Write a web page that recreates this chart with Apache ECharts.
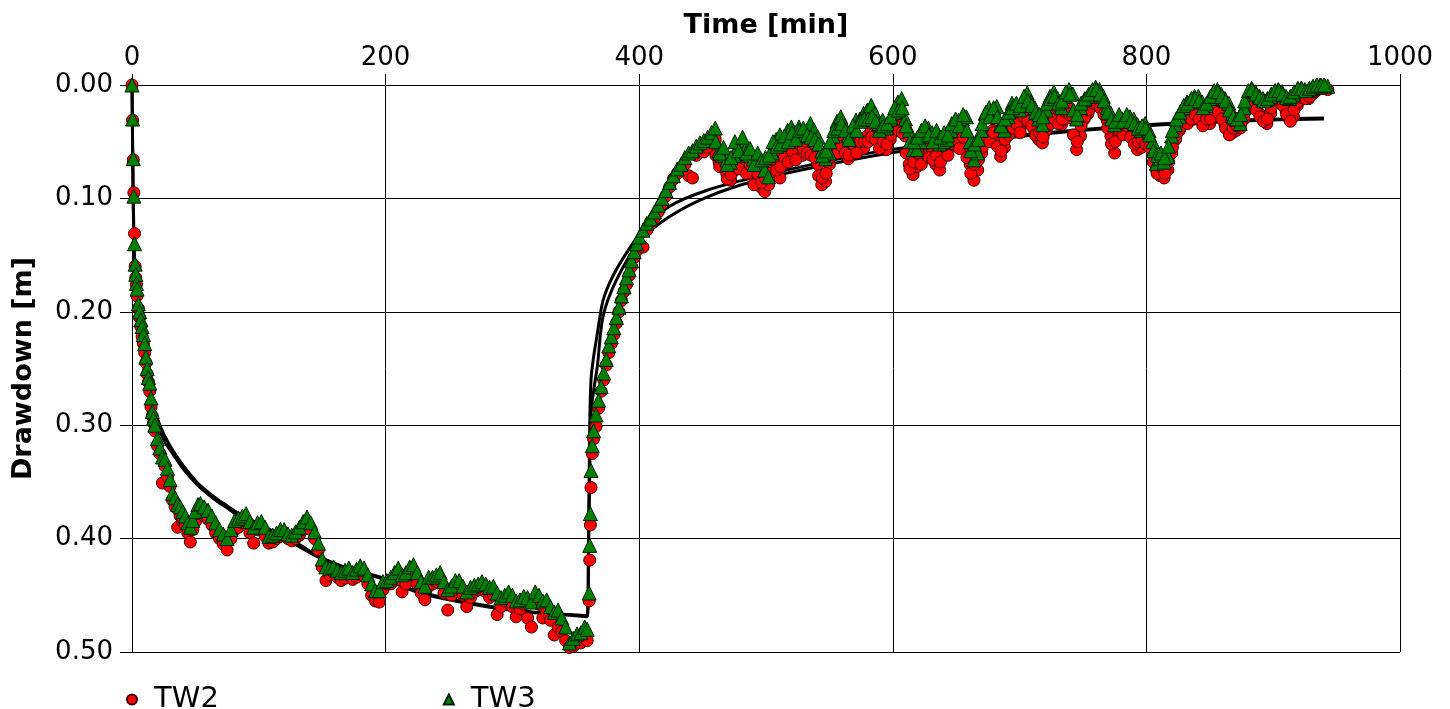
<!DOCTYPE html>
<html>
<head>
<meta charset="utf-8">
<script src="https://cdn.jsdelivr.net/npm/echarts@6/dist/echarts.min.js"></script>
<style>
  html, body { margin: 0; padding: 0; background: #fff; }
  #chart { width: 1450px; height: 709px; }
</style>
</head>
<body>
<div id="chart"></div>
<script>
// sampling times [min]
var time = [
  0, 0.5, 1, 1.5, 2, 2.5, 3, 3.5, 4, 5,
  6, 7, 8, 9, 10, 11, 12, 13, 14, 15,
  16, 17, 18, 20, 22, 24, 26, 28, 30, 32,
  34, 36, 38, 40, 42, 44, 46, 48, 50, 52,
  54, 57, 60, 63, 66, 69, 72, 75, 78, 81,
  84, 87, 90, 93, 96, 99, 102, 105, 108, 111,
  114, 117, 120, 123, 126, 129, 132, 135, 138, 141,
  144, 147, 150, 153, 156, 159, 162, 165, 168, 171,
  174, 177, 180, 183, 186, 189, 192, 195, 198, 201,
  204, 207, 210, 213, 216, 219, 222, 225, 228, 231,
  234, 237, 240, 243, 246, 249, 252, 255, 258, 261,
  264, 267, 270, 273, 276, 279, 282, 285, 288, 291,
  294, 297, 300, 303, 306, 309, 312, 315, 318, 321,
  324, 327, 330, 333, 336, 339, 342, 345, 348, 351,
  354, 357, 359, 360.5, 361, 361.5, 362, 363, 364, 366,
  368, 370, 372, 374, 376, 378, 380, 382, 384, 386,
  388, 390, 392, 394, 396, 398, 400, 403, 406, 409,
  412, 415, 418, 421, 424, 427, 430, 433, 436, 439,
  442, 445, 448, 451, 454, 457, 460, 463, 466, 469,
  472, 475, 478, 481, 484, 487, 490, 493, 496, 499,
  502, 505, 508, 511, 514, 517, 520, 523, 526, 529,
  532, 535, 538, 541, 544, 547, 550, 553, 556, 559,
  562, 565, 568, 571, 574, 577, 580, 583, 586, 589,
  592, 595, 598, 601, 604, 607, 610, 613, 616, 619,
  622, 625, 628, 631, 634, 637, 640, 643, 646, 649,
  652, 655, 658, 661, 664, 667, 670, 673, 676, 679,
  682, 685, 688, 691, 694, 697, 700, 703, 706, 709,
  712, 715, 718, 721, 724, 727, 730, 733, 736, 739,
  742, 745, 748, 751, 754, 757, 760, 763, 766, 769,
  772, 775, 778, 781, 784, 787, 790, 793, 796, 799,
  802, 805, 808, 811, 814, 817, 820, 823, 826, 829,
  832, 835, 838, 841, 844, 847, 850, 853, 856, 859,
  862, 865, 868, 871, 874, 877, 880, 883, 886, 889,
  892, 895, 898, 901, 904, 907, 910, 913, 916, 919,
  922, 925, 928, 931, 934, 937, 940, 943
];

// drawdown [m]
var tw2 = [
  0.000, 0.031, 0.066, 0.095, 0.131, 0.160, 0.170, 0.176, 0.186, 0.197,
  0.205, 0.213, 0.222, 0.228, 0.236, 0.245, 0.255, 0.262, 0.270, 0.284,
  0.292, 0.298, 0.305, 0.318, 0.325, 0.351, 0.336, 0.345, 0.354, 0.366,
  0.372, 0.390, 0.380, 0.385, 0.388, 0.395, 0.403, 0.392, 0.385, 0.378,
  0.376, 0.380, 0.383, 0.388, 0.395, 0.400, 0.405, 0.410, 0.400, 0.392,
  0.390, 0.386, 0.385, 0.395, 0.404, 0.392, 0.390, 0.398, 0.404, 0.403,
  0.400, 0.398, 0.396, 0.400, 0.402, 0.400, 0.397, 0.392, 0.388, 0.392,
  0.400, 0.410, 0.425, 0.437, 0.432, 0.430, 0.434, 0.437, 0.435, 0.432,
  0.436, 0.434, 0.430, 0.433, 0.440, 0.450, 0.455, 0.456, 0.445, 0.440,
  0.440, 0.437, 0.436, 0.447, 0.440, 0.432, 0.430, 0.440, 0.448, 0.454,
  0.442, 0.440, 0.438, 0.436, 0.448, 0.463, 0.450, 0.445, 0.443, 0.450,
  0.460, 0.452, 0.447, 0.445, 0.444, 0.447, 0.452, 0.450, 0.467, 0.460,
  0.455, 0.452, 0.460, 0.469, 0.462, 0.458, 0.470, 0.478, 0.455, 0.458,
  0.470, 0.465, 0.472, 0.485, 0.478, 0.482, 0.490, 0.496, 0.495, 0.490,
  0.492, 0.488, 0.490, 0.455, 0.419, 0.388, 0.355, 0.325, 0.312, 0.301,
  0.285, 0.270, 0.260, 0.247, 0.236, 0.228, 0.220, 0.210, 0.200, 0.190,
  0.182, 0.176, 0.168, 0.160, 0.152, 0.146, 0.140, 0.143, 0.128, 0.122,
  0.117, 0.112, 0.105, 0.098, 0.090, 0.083, 0.078, 0.074, 0.070, 0.080,
  0.082, 0.062, 0.058, 0.059, 0.055, 0.050, 0.048, 0.068, 0.070, 0.078,
  0.084, 0.075, 0.070, 0.066, 0.071, 0.075, 0.080, 0.085, 0.090, 0.094,
  0.088, 0.070, 0.062, 0.082, 0.070, 0.060, 0.066, 0.060, 0.058, 0.062,
  0.055, 0.050, 0.058, 0.070, 0.088, 0.085, 0.070, 0.060, 0.052, 0.050,
  0.055, 0.065, 0.058, 0.048, 0.056, 0.056, 0.045, 0.040, 0.042, 0.050,
  0.055, 0.057, 0.048, 0.040, 0.030, 0.035, 0.045, 0.070, 0.079, 0.072,
  0.065, 0.060, 0.055, 0.060, 0.070, 0.075, 0.060, 0.058, 0.052, 0.048,
  0.045, 0.050, 0.055, 0.070, 0.084, 0.075, 0.060, 0.050, 0.045, 0.040,
  0.045, 0.063, 0.055, 0.040, 0.035, 0.030, 0.038, 0.032, 0.025, 0.030,
  0.040, 0.048, 0.051, 0.040, 0.030, 0.025, 0.028, 0.035, 0.030, 0.020,
  0.030, 0.057, 0.045, 0.030, 0.025, 0.018, 0.012, 0.015, 0.022, 0.031,
  0.045, 0.060, 0.045, 0.040, 0.038, 0.042, 0.048, 0.057, 0.055, 0.045,
  0.050, 0.060, 0.075, 0.080, 0.082, 0.075, 0.060, 0.048, 0.040, 0.035,
  0.030, 0.028, 0.030, 0.028, 0.032, 0.034, 0.034, 0.025, 0.020, 0.025,
  0.035, 0.040, 0.042, 0.040, 0.038, 0.030, 0.020, 0.012, 0.018, 0.025,
  0.030, 0.034, 0.025, 0.015, 0.010, 0.015, 0.022, 0.030, 0.028, 0.018,
  0.012, 0.010, 0.012, 0.008, 0.005, 0.003, 0.002, 0.004
];

var tw3 = [
  0.000, 0.030, 0.065, 0.098, 0.140, 0.158, 0.167, 0.175, 0.180, 0.193,
  0.200, 0.207, 0.213, 0.220, 0.228, 0.240, 0.250, 0.258, 0.263, 0.276,
  0.288, 0.294, 0.300, 0.312, 0.320, 0.328, 0.330, 0.338, 0.348, 0.360,
  0.364, 0.370, 0.372, 0.376, 0.380, 0.386, 0.390, 0.384, 0.376, 0.370,
  0.369, 0.372, 0.375, 0.380, 0.386, 0.392, 0.396, 0.400, 0.392, 0.384,
  0.382, 0.380, 0.378, 0.385, 0.390, 0.386, 0.385, 0.390, 0.398, 0.397,
  0.395, 0.392, 0.392, 0.396, 0.397, 0.394, 0.390, 0.385, 0.381, 0.386,
  0.394, 0.404, 0.418, 0.425, 0.426, 0.425, 0.428, 0.430, 0.428, 0.426,
  0.430, 0.427, 0.424, 0.426, 0.432, 0.440, 0.446, 0.446, 0.438, 0.437,
  0.434, 0.430, 0.426, 0.432, 0.430, 0.425, 0.423, 0.430, 0.438, 0.442,
  0.434, 0.434, 0.432, 0.430, 0.438, 0.445, 0.442, 0.437, 0.437, 0.442,
  0.447, 0.443, 0.441, 0.440, 0.438, 0.440, 0.443, 0.442, 0.448, 0.452,
  0.450, 0.447, 0.450, 0.455, 0.454, 0.451, 0.452, 0.456, 0.447, 0.450,
  0.455, 0.454, 0.460, 0.465, 0.463, 0.470, 0.478, 0.492, 0.488, 0.484,
  0.483, 0.478, 0.480, 0.448, 0.406, 0.378, 0.340, 0.318, 0.305, 0.291,
  0.278, 0.266, 0.254, 0.242, 0.230, 0.222, 0.214, 0.205, 0.196, 0.186,
  0.178, 0.170, 0.163, 0.155, 0.147, 0.140, 0.134, 0.128, 0.122, 0.118,
  0.112, 0.106, 0.100, 0.093, 0.086, 0.080, 0.074, 0.070, 0.064, 0.060,
  0.058, 0.054, 0.051, 0.049, 0.046, 0.042, 0.038, 0.058, 0.062, 0.066,
  0.068, 0.062, 0.054, 0.050, 0.056, 0.062, 0.065, 0.066, 0.070, 0.075,
  0.081, 0.060, 0.048, 0.044, 0.050, 0.040, 0.037, 0.042, 0.037, 0.045,
  0.040, 0.034, 0.040, 0.046, 0.058, 0.065, 0.060, 0.045, 0.032, 0.028,
  0.036, 0.045, 0.040, 0.031, 0.030, 0.025, 0.022, 0.018, 0.025, 0.034,
  0.031, 0.038, 0.030, 0.024, 0.015, 0.012, 0.030, 0.040, 0.057, 0.057,
  0.050, 0.045, 0.038, 0.042, 0.048, 0.052, 0.050, 0.048, 0.040, 0.033,
  0.031, 0.030, 0.028, 0.050, 0.066, 0.060, 0.040, 0.025, 0.020, 0.022,
  0.019, 0.035, 0.040, 0.028, 0.016, 0.018, 0.022, 0.012, 0.007, 0.015,
  0.020, 0.030, 0.035, 0.022, 0.010, 0.006, 0.012, 0.020, 0.010, 0.004,
  0.008, 0.030, 0.020, 0.013, 0.010, 0.006, 0.002, 0.004, 0.010, 0.020,
  0.025, 0.035, 0.028, 0.030, 0.030, 0.028, 0.030, 0.035, 0.040, 0.034,
  0.040, 0.050, 0.069, 0.065, 0.068, 0.063, 0.045, 0.035, 0.028, 0.020,
  0.015, 0.013, 0.010, 0.010, 0.015, 0.018, 0.012, 0.006, 0.004, 0.008,
  0.012, 0.016, 0.025, 0.030, 0.034, 0.020, 0.008, 0.003, 0.006, 0.010,
  0.012, 0.013, 0.010, 0.006, 0.004, 0.006, 0.010, 0.012, 0.008, 0.004,
  0.003, 0.004, 0.004, 0.002, 0.001, 0.000, 0.000, 0.001
];

// extra readings in the recovery period (in-between samples)
var timeB = [
  460.5, 463.5, 466.5, 469.5, 472.5, 475.5, 478.5, 481.5, 484.5, 487.5,
  490.5, 493.5, 496.5, 499.5, 502.5, 505.5, 508.5, 511.5, 514.5, 517.5,
  520.5, 523.5, 526.5, 529.5, 532.5, 535.5, 538.5, 541.5, 544.5, 547.5,
  550.5, 553.5, 556.5, 559.5, 562.5, 565.5, 568.5, 571.5, 574.5, 577.5,
  580.5, 583.5, 586.5, 589.5, 592.5, 595.5, 598.5, 601.5, 604.5, 607.5,
  610.5, 613.5, 616.5, 619.5, 622.5, 625.5, 628.5, 631.5, 634.5, 637.5,
  640.5, 643.5, 646.5, 649.5, 652.5, 655.5, 658.5, 661.5, 664.5, 667.5,
  670.5, 673.5, 676.5, 679.5, 682.5, 685.5, 688.5, 691.5, 694.5, 697.5,
  700.5, 703.5, 706.5, 709.5, 712.5, 715.5, 718.5, 721.5, 724.5, 727.5,
  730.5, 733.5, 736.5, 739.5, 742.5, 745.5, 748.5, 751.5, 754.5, 757.5,
  760.5, 763.5, 766.5, 769.5, 772.5, 775.5, 778.5, 781.5, 784.5, 787.5,
  790.5, 793.5, 796.5, 799.5, 802.5, 805.5, 808.5, 811.5, 814.5, 817.5,
  820.5, 823.5, 826.5, 829.5, 832.5, 835.5, 838.5, 841.5, 844.5, 847.5,
  850.5, 853.5, 856.5, 859.5, 862.5, 865.5, 868.5, 871.5, 874.5, 877.5,
  880.5, 883.5, 886.5, 889.5, 892.5, 895.5, 898.5, 901.5, 904.5, 907.5,
  910.5, 913.5, 916.5, 919.5, 922.5, 925.5, 928.5, 931.5, 934.5, 937.5,
  940.5
];

var tw2B = [
  0.062, 0.072, 0.066, 0.083, 0.079, 0.068, 0.074, 0.060, 0.078, 0.070,
  0.088, 0.078, 0.086, 0.082, 0.078, 0.066, 0.075, 0.072, 0.064, 0.068,
  0.058, 0.066, 0.052, 0.056, 0.060, 0.062, 0.064, 0.080, 0.082, 0.078,
  0.064, 0.056, 0.060, 0.054, 0.060, 0.062, 0.052, 0.060, 0.050, 0.050,
  0.050, 0.046, 0.048, 0.056, 0.050, 0.052, 0.044, 0.036, 0.040, 0.042,
  0.060, 0.074, 0.068, 0.060, 0.070, 0.052, 0.064, 0.066, 0.062, 0.068,
  0.054, 0.062, 0.046, 0.052, 0.056, 0.046, 0.064, 0.078, 0.070, 0.066,
  0.055, 0.046, 0.050, 0.042, 0.054, 0.058, 0.048, 0.044, 0.038, 0.034,
  0.042, 0.028, 0.032, 0.036, 0.044, 0.042, 0.046, 0.036, 0.034, 0.030,
  0.034, 0.030, 0.024, 0.026, 0.044, 0.050, 0.036, 0.028, 0.022, 0.016,
  0.016, 0.020, 0.026, 0.038, 0.052, 0.050, 0.040, 0.044, 0.036, 0.046,
  0.052, 0.050, 0.048, 0.052, 0.055, 0.068, 0.078, 0.072, 0.078, 0.068,
  0.055, 0.044, 0.038, 0.032, 0.034, 0.030, 0.026, 0.030, 0.036, 0.030,
  0.030, 0.022, 0.024, 0.030, 0.038, 0.044, 0.038, 0.036, 0.034, 0.024,
  0.016, 0.015, 0.022, 0.028, 0.032, 0.030, 0.020, 0.012, 0.013, 0.018,
  0.026, 0.032, 0.022, 0.015, 0.011, 0.012, 0.010, 0.006, 0.004, 0.003,
  0.003
];

var tw3B = [
  0.050, 0.060, 0.055, 0.070, 0.064, 0.050, 0.058, 0.046, 0.060, 0.056,
  0.070, 0.060, 0.066, 0.064, 0.062, 0.050, 0.054, 0.052, 0.045, 0.050,
  0.042, 0.048, 0.040, 0.038, 0.044, 0.046, 0.048, 0.052, 0.062, 0.058,
  0.050, 0.040, 0.038, 0.034, 0.040, 0.048, 0.036, 0.040, 0.032, 0.030,
  0.030, 0.028, 0.032, 0.040, 0.036, 0.034, 0.028, 0.020, 0.022, 0.020,
  0.036, 0.050, 0.050, 0.046, 0.040, 0.036, 0.044, 0.050, 0.040, 0.046,
  0.042, 0.044, 0.034, 0.030, 0.036, 0.026, 0.040, 0.058, 0.052, 0.048,
  0.034, 0.024, 0.028, 0.020, 0.028, 0.036, 0.030, 0.024, 0.020, 0.016,
  0.018, 0.010, 0.014, 0.018, 0.024, 0.026, 0.028, 0.016, 0.012, 0.010,
  0.016, 0.014, 0.006, 0.008, 0.022, 0.026, 0.016, 0.012, 0.008, 0.004,
  0.004, 0.008, 0.014, 0.024, 0.030, 0.032, 0.026, 0.032, 0.026, 0.032,
  0.034, 0.038, 0.036, 0.038, 0.044, 0.058, 0.062, 0.060, 0.064, 0.054,
  0.040, 0.030, 0.024, 0.018, 0.016, 0.012, 0.012, 0.014, 0.020, 0.016,
  0.010, 0.005, 0.006, 0.010, 0.014, 0.022, 0.028, 0.030, 0.026, 0.014,
  0.005, 0.004, 0.008, 0.011, 0.014, 0.012, 0.008, 0.005, 0.005, 0.008,
  0.011, 0.010, 0.006, 0.003, 0.003, 0.005, 0.003, 0.001, 0.000, 0.000,
  0.000
];

// fitted curves (two model lines)
var fitTimeA = [0, 0.5, 1, 1.5, 2, 3, 4, 5, 7, 10, 14, 18, 22, 26, 32, 40, 51, 60, 67, 75, 83, 100, 116, 130, 148, 170, 196, 227, 250, 274, 300, 330, 359,
  360, 361, 362, 364, 367, 371.5, 379, 390, 401, 424, 453, 493, 545, 598, 650, 721, 800, 870, 940];
var fitA = [0, 0.06, 0.11, 0.14, 0.16, 0.185, 0.2, 0.21, 0.23, 0.255, 0.28, 0.29, 0.305, 0.315, 0.325, 0.338, 0.352, 0.361, 0.367, 0.373, 0.379, 0.389, 0.398, 0.406, 0.417, 0.427, 0.435, 0.447, 0.453, 0.458, 0.463, 0.466, 0.469,
  0.40, 0.30, 0.26, 0.24, 0.219, 0.19, 0.169, 0.148, 0.131, 0.107, 0.093, 0.081, 0.068, 0.057, 0.05, 0.042, 0.035, 0.031, 0.029];
var fitTimeB = [0, 0.5, 1, 1.5, 2, 3, 4, 5, 7, 10, 14, 18, 22, 26, 32, 40, 51, 60, 67, 75, 83, 100, 116, 130, 148, 170, 196, 227, 274, 314, 345, 359,
  360, 361, 362, 364, 367, 371.5, 382, 401, 424, 453, 493, 545, 598, 650, 721, 800, 870, 940];
var fitB = [0, 0.05, 0.1, 0.13, 0.155, 0.18, 0.195, 0.205, 0.225, 0.25, 0.275, 0.288, 0.3, 0.31, 0.322, 0.335, 0.35, 0.359, 0.365, 0.371, 0.377, 0.387, 0.396, 0.404, 0.416, 0.426, 0.434, 0.448, 0.459, 0.465, 0.467, 0.468,
  0.42, 0.34, 0.29, 0.27, 0.248, 0.204, 0.172, 0.137, 0.116, 0.099, 0.084, 0.071, 0.06, 0.052, 0.043, 0.036, 0.032, 0.03];

var xTicks = [0, 200, 400, 600, 800, 1000];

function pairs(xs, ys) {
  return xs.map(function (x, i) { return [x, ys[i]]; });
}

var chart = echarts.init(document.getElementById('chart'));
var font = 'DejaVu Sans';
var option = {
  backgroundColor: '#fff',
  animation: false,
  textStyle: { fontFamily: font },
  grid: { left: 132, right: 50, top: 85, bottom: 57, containLabel: false, outerBoundsMode: 'none' },
  legend: {
    left: 121, top: 680,
    itemGap: 224, itemWidth: 10, itemHeight: 10,
    textStyle: { fontSize: 29, color: '#000', fontFamily: font, padding: [0, 0, 0, 12] },
    data: [{ name: 'TW2', icon: 'circle' }, { name: 'TW3', icon: 'triangle' }]
  },
  xAxis: {
    type: 'value', position: 'top',
    min: xTicks[0], max: xTicks[xTicks.length - 1], interval: 200,
    name: 'Time [min]', nameLocation: 'middle', nameGap: 46,
    nameTextStyle: { fontSize: 27, fontWeight: 'bold', color: '#000', fontFamily: font },
    axisLine: { lineStyle: { color: '#000', width: 1 } },
    axisTick: { show: true, length: 11, lineStyle: { color: '#000' } },
    axisLabel: { fontSize: 26, color: '#000', margin: 14, fontFamily: font,
      formatter: function (v) { return String(v); } },
    splitLine: { lineStyle: { color: '#000', width: 1 } }
  },
  yAxis: {
    type: 'value', inverse: true,
    min: 0, max: 0.5, interval: 0.1,
    name: 'Drawdown [m]', nameLocation: 'middle', nameGap: 95, nameRotate: 90,
    nameTextStyle: { fontSize: 27, fontWeight: 'bold', color: '#000', fontFamily: font },
    axisLine: { lineStyle: { color: '#000', width: 1 } },
    axisTick: { show: true, length: 12, lineStyle: { color: '#000' } },
    axisLabel: { fontSize: 26, color: '#000', margin: 19, fontFamily: font,
      formatter: function (v) { return v.toFixed(2); } },
    splitLine: { lineStyle: { color: '#000', width: 1 } }
  },
  series: [
    {
      name: 'fitA', type: 'line', data: pairs(fitTimeA, fitA),
      showSymbol: false, smooth: 0.3, z: 2,
      lineStyle: { color: '#000', width: 3 }
    },
    {
      name: 'fitB', type: 'line', data: pairs(fitTimeB, fitB),
      showSymbol: false, smooth: 0.3, z: 2,
      lineStyle: { color: '#000', width: 3 }
    },
    {
      name: 'TW2', type: 'scatter',
      data: pairs(time, tw2).concat(pairs(timeB, tw2B)),
      symbol: 'circle', symbolSize: 12, z: 3,
      itemStyle: { color: '#ff0000', borderColor: '#3a0000', borderWidth: 1, opacity: 1 }
    },
    {
      name: 'TW3', type: 'scatter',
      data: pairs(time, tw3).concat(pairs(timeB, tw3B)),
      symbol: 'triangle', symbolSize: 14, z: 4,
      itemStyle: { color: '#008000', borderColor: '#002000', borderWidth: 1, opacity: 1 }
    }
  ]
};
chart.setOption(option);
</script>
</body>
</html>
